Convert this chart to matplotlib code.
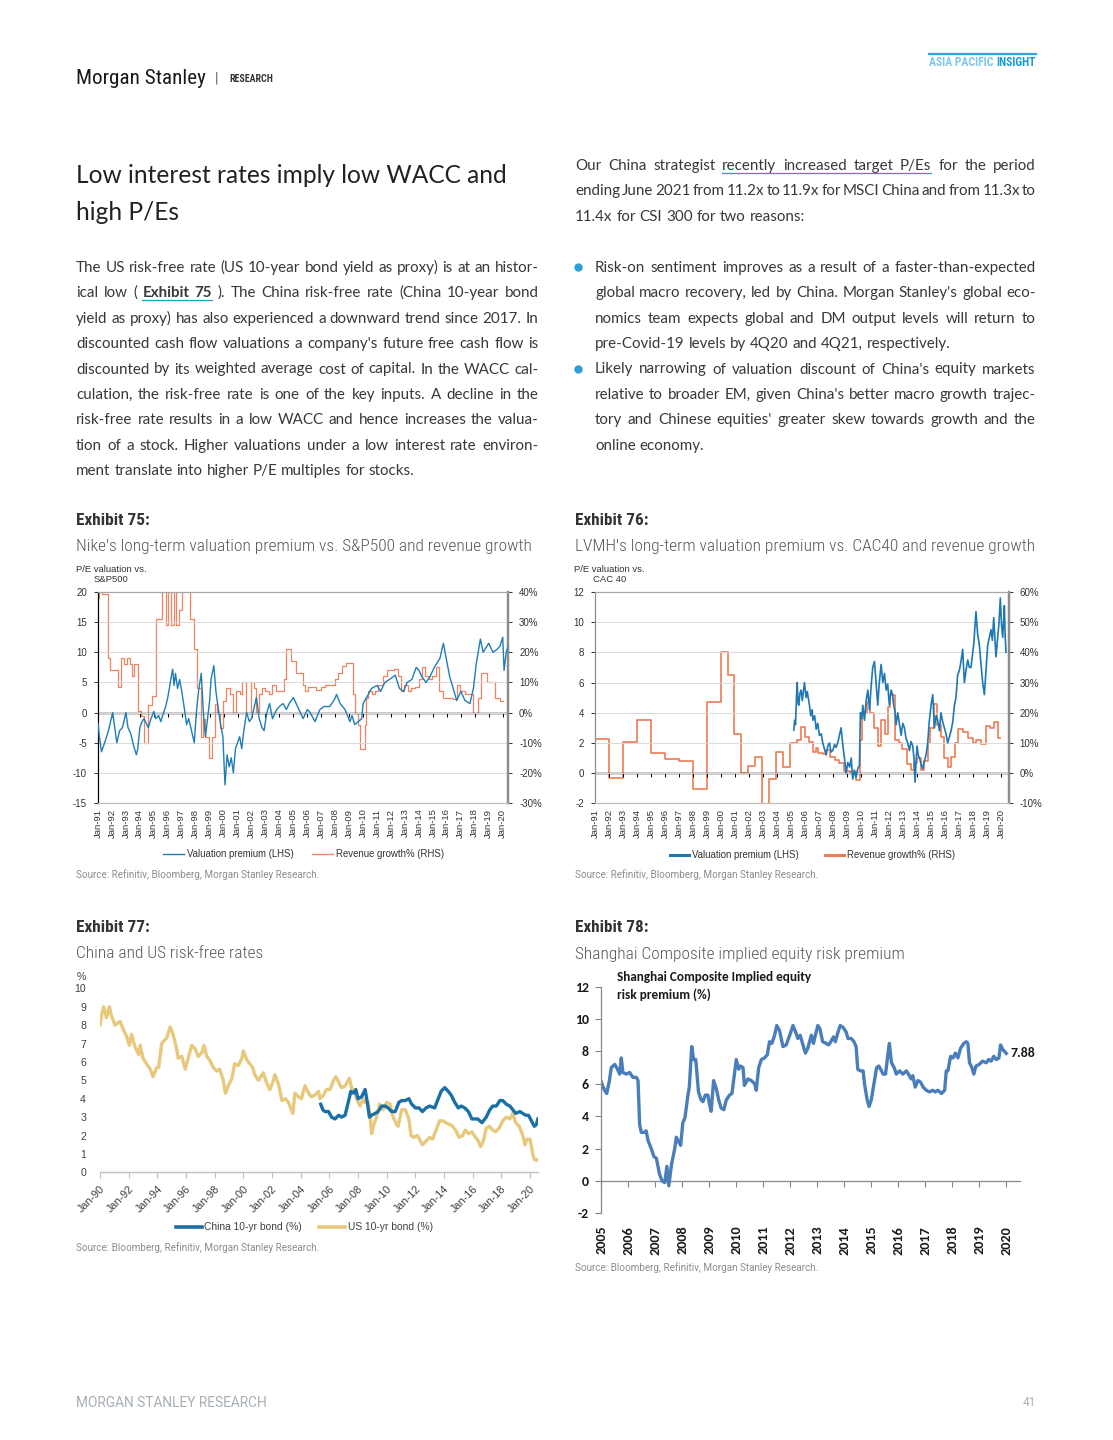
import matplotlib
matplotlib.use("Agg")
import matplotlib.pyplot as plt
from matplotlib.lines import Line2D
from matplotlib import font_manager

# ---------------- data ----------------
nike_premium = [
    (1991.0, -1.8), (1991.1, -4.0), (1991.25, -6.5), (1991.4, -5.5), (1991.55, -4.5), (1991.75, -3.0),
    (1992.05, 0.0), (1992.2, -2.5), (1992.35, -5.0), (1992.55, -3.0), (1992.75, -2.5), (1993.0, 0.0),
    (1993.15, -2.5), (1993.35, -3.5), (1993.55, -5.5), (1993.75, -7.0), (1993.85, -6.0), (1994.0, -2.5),
    (1994.15, -1.5), (1994.3, -1.0), (1994.6, -2.5), (1994.8, -1.0), (1995.0, 0.2), (1995.15, -1.0),
    (1995.35, -0.5), (1995.5, -1.5), (1995.7, 0.0), (1995.85, 1.0), (1996.0, 2.5), (1996.15, 4.5),
    (1996.25, 6.0), (1996.35, 7.2), (1996.45, 4.5), (1996.55, 6.5), (1996.7, 4.0), (1996.85, 5.5),
    (1997.0, 3.5), (1997.2, 0.5), (1997.35, -2.0), (1997.5, -1.0), (1997.7, -3.0), (1997.9, -5.0),
    (1998.05, 0.0), (1998.2, 3.5), (1998.4, 6.5), (1998.55, 0.0), (1998.7, -4.0), (1998.85, -1.0),
    (1999.0, 2.0), (1999.1, 5.5), (1999.3, 7.8), (1999.45, 3.5), (1999.6, 1.0), (1999.75, -1.5),
    (1999.95, -4.0), (2000.1, -12.0), (2000.25, -7.0), (2000.4, -9.0), (2000.55, -7.5), (2000.7, -10.0),
    (2000.85, -6.0), (2001.0, -5.0), (2001.15, -4.0), (2001.3, -6.0), (2001.45, -3.0), (2001.65, 0.0),
    (2001.85, -1.5), (2002.0, -1.0), (2002.2, 1.0), (2002.35, 2.5), (2002.55, -1.0), (2002.75, -2.5),
    (2002.9, -3.0), (2003.1, 0.0), (2003.3, 1.5), (2003.5, -1.0), (2003.8, 0.5), (2004.0, 1.0),
    (2004.25, 1.5), (2004.5, 0.5), (2004.7, 1.5), (2005.0, 2.5), (2005.2, 1.5), (2005.5, 0.0),
    (2005.7, -1.0), (2006.0, 0.5), (2006.2, 0.0), (2006.55, -1.5), (2006.9, 0.5), (2007.2, 1.0),
    (2007.6, 1.0), (2007.9, 2.0), (2008.1, 3.0), (2008.35, 1.5), (2008.7, 0.5), (2009.05, -1.5),
    (2009.2, -0.5), (2009.4, -2.0), (2009.65, -1.5), (2009.9, -1.0), (2010.0, 1.5), (2010.25, 2.5),
    (2010.6, 4.0), (2011.0, 4.5), (2011.25, 3.5), (2011.55, 5.0), (2011.9, 5.5), (2012.3, 6.2),
    (2012.6, 4.0), (2012.9, 3.5), (2013.15, 5.0), (2013.5, 5.5), (2013.8, 7.5), (2014.0, 7.0),
    (2014.2, 6.0), (2014.5, 5.0), (2014.8, 6.0), (2015.1, 7.5), (2015.5, 9.0), (2015.75, 11.5),
    (2015.95, 9.0), (2016.2, 6.0), (2016.45, 4.0), (2016.7, 2.0), (2017.0, 3.5), (2017.3, 2.0),
    (2017.65, 1.5), (2017.9, 4.0), (2018.1, 8.0), (2018.4, 12.2), (2018.6, 10.0), (2019.0, 11.5),
    (2019.3, 10.0), (2019.6, 10.5), (2019.8, 11.0), (2020.0, 12.5), (2020.1, 7.0), (2020.25, 10.0),
    (2020.4, 11.0), (2020.5, 13.5),
]
nike_revenue = [
    (1991.0, 38), (1991.08, 45), (1991.3, 39.5), (1991.7, 18), (1991.85, 14), (1992.45, 8.5),
    (1992.65, 18), (1992.85, 16), (1993.05, 18), (1993.3, 16), (1993.45, 12), (1993.6, 16),
    (1993.9, 0.5), (1994.05, -1), (1994.3, -10), (1994.6, 2.5), (1994.85, 5.5), (1995.15, 31),
    (1995.45, 31), (1995.6, 45), (1995.85, 29), (1996.05, 45), (1996.25, 29), (1996.45, 45),
    (1996.6, 29), (1996.8, 34), (1997.0, 45), (1997.6, 31), (1997.85, 21), (1998.1, 8),
    (1998.35, -8), (1998.5, -2), (1998.65, -8), (1998.95, -15), (1999.15, -8), (1999.35, 3),
    (1999.55, 0), (1999.75, -5), (1999.95, 4), (2000.2, 8), (2000.45, 6), (2000.65, 0),
    (2000.9, 7), (2001.15, 6), (2001.35, 10), (2001.6, 0), (2001.95, 10), (2002.2, 8),
    (2002.35, 0), (2002.55, 6), (2002.75, 8), (2003.0, 7), (2003.25, 6), (2003.5, 9),
    (2003.75, 7), (2004.0, 7), (2004.35, 11), (2004.5, 21), (2004.85, 17), (2005.2, 13),
    (2005.7, 9), (2005.8, 7), (2006.05, 8.5), (2006.6, 7.5), (2006.95, 8.5), (2007.3, 9.0),
    (2008.0, 11), (2008.2, 13), (2008.45, 15.5), (2008.75, 16.5), (2009.25, 6), (2009.45, 0),
    (2009.6, -4), (2009.8, -12), (2010.1, -4), (2010.2, 5), (2010.35, 7), (2010.6, 6),
    (2010.85, 7), (2011.1, 9), (2011.4, 12), (2011.7, 14), (2012.2, 14.5), (2012.5, 12),
    (2012.7, 7), (2012.95, 9), (2013.2, 7), (2013.45, 8), (2013.75, 8.5), (2014.0, 11),
    (2014.2, 15), (2014.45, 12), (2014.7, 11), (2014.95, 12), (2015.2, 15), (2015.45, 7),
    (2015.7, 5), (2016.45, 4.5), (2016.7, 9), (2016.95, 7), (2017.3, 6), (2017.85, 0),
    (2018.2, 5), (2018.45, 13), (2018.85, 10), (2019.45, 5), (2019.8, 4), (2020.0, 4),
]
lvmh_premium = [
    (2005.19, 2.85), (2005.25, 3.5), (2005.31, 3.2), (2005.38, 5.0), (2005.43, 6.0), (2005.5, 4.6),
    (2005.55, 4.5), (2005.63, 5.3), (2005.71, 5.5), (2005.8, 4.8), (2005.9, 5.6), (2005.95, 6.0),
    (2006.07, 5.0), (2006.15, 5.4), (2006.31, 4.5), (2006.4, 3.8), (2006.5, 4.2), (2006.55, 3.5),
    (2006.68, 3.8), (2006.79, 2.9), (2006.9, 3.3), (2007.02, 2.5), (2007.15, 2.6), (2007.26, 2.0),
    (2007.38, 1.6), (2007.5, 1.2), (2007.62, 1.8), (2007.74, 2.0), (2007.85, 1.4), (2007.98, 1.5),
    (2008.1, 1.9), (2008.21, 1.7), (2008.35, 2.1), (2008.45, 2.5), (2008.57, 3.0), (2008.7, 1.8),
    (2008.81, 1.0), (2008.93, 0.0), (2009.05, 0.7), (2009.18, 0.4), (2009.29, 1.0), (2009.4, -0.4),
    (2009.52, 0.2), (2009.64, -0.3), (2009.76, 0.3), (2009.88, 0.5), (2009.95, 4.0), (2010.05, 3.6),
    (2010.12, 4.5), (2010.24, 3.5), (2010.36, 4.8), (2010.48, 5.5), (2010.6, 4.2), (2010.72, 5.8),
    (2010.83, 7.0), (2010.95, 7.4), (2011.07, 6.0), (2011.19, 4.5), (2011.3, 6.0), (2011.43, 7.2),
    (2011.55, 6.0), (2011.67, 6.6), (2011.79, 5.5), (2011.9, 5.9), (2012.02, 4.5), (2012.14, 5.5),
    (2012.25, 5.2), (2012.33, 4.5), (2012.42, 4.1), (2012.5, 3.2), (2012.62, 4.0), (2012.75, 3.2),
    (2012.86, 2.5), (2012.98, 3.3), (2013.1, 3.0), (2013.21, 2.3), (2013.33, 2.0), (2013.45, 1.5),
    (2013.57, 2.1), (2013.69, 1.8), (2013.78, 1.0), (2013.86, -0.6), (2013.93, 0.8), (2014.0, 1.8),
    (2014.08, 1.2), (2014.17, 1.0), (2014.28, 0.6), (2014.4, 0.3), (2014.52, 0.8), (2014.64, 1.2),
    (2014.76, 2.0), (2014.88, 3.5), (2015.0, 4.5), (2015.12, 5.2), (2015.24, 3.0), (2015.36, 3.8),
    (2015.48, 3.5), (2015.6, 2.8), (2015.71, 4.0), (2015.83, 3.4), (2015.95, 3.0), (2016.07, 2.6),
    (2016.19, 2.0), (2016.31, 2.4), (2016.43, 2.8), (2016.55, 3.4), (2016.67, 4.5), (2016.78, 5.0),
    (2016.9, 6.5), (2017.02, 6.8), (2017.14, 7.4), (2017.26, 8.2), (2017.38, 6.0), (2017.5, 6.8),
    (2017.62, 7.5), (2017.74, 7.0), (2017.86, 7.0), (2017.95, 7.8), (2018.05, 8.5), (2018.13, 9.6),
    (2018.21, 10.7), (2018.33, 9.2), (2018.45, 8.5), (2018.57, 7.2), (2018.69, 6.0), (2018.81, 5.2),
    (2018.93, 6.8), (2019.05, 8.5), (2019.17, 9.0), (2019.29, 9.5), (2019.38, 8.8), (2019.48, 10.3),
    (2019.56, 9.0), (2019.64, 7.7), (2019.76, 9.0), (2019.86, 10.0), (2019.95, 11.6), (2020.04, 9.8),
    (2020.12, 9.0), (2020.2, 10.3), (2020.24, 11.1), (2020.3, 9.0), (2020.36, 8.0),
]
lvmh_revenue = [
    (1991.0, 11.2), (1992.0, -1.7), (1993.0, 10.2), (1994.0, 17.5), (1995.0, 6.6), (1996.0, 4.6),
    (1996.95, 4.0), (1997.95, -5.2), (1998.95, 23.5), (1999.95, 40.0), (2000.5, 32.5), (2000.95, 13.0),
    (2001.45, 0.0), (2001.9, 2.3), (2002.45, 5.2), (2002.95, -11.0), (2003.45, -2.0), (2003.9, 7.0),
    (2004.4, 2.1), (2004.95, 10.0), (2005.45, 11.0), (2005.7, 15.3), (2006.0, 12.0), (2006.25, 10.4),
    (2006.55, 7.0), (2006.8, 8.2), (2006.95, 6.5), (2007.25, 6.3), (2007.5, 7.6), (2007.75, 5.4),
    (2008.1, 4.3), (2008.45, 3.2), (2008.8, 0.8), (2009.2, 0.5), (2009.65, -2.3), (2009.95, 11.0),
    (2010.05, 20.0), (2010.4, 23.5), (2010.65, 20.0), (2010.95, 15.0), (2011.2, 9.0), (2011.45, 17.5),
    (2011.7, 13.0), (2011.9, 22.0), (2012.1, 26.0), (2012.45, 11.0), (2012.7, 10.0), (2012.95, 8.0),
    (2013.25, 3.0), (2013.55, 1.0), (2013.8, 3.5), (2014.0, 5.0), (2014.25, 1.0), (2014.5, 4.0),
    (2014.75, 10.0), (2014.95, 15.0), (2015.2, 23.0), (2015.45, 16.0), (2015.7, 12.0), (2015.95, 5.0),
    (2016.2, 2.0), (2016.4, 5.5), (2016.7, 10.0), (2016.95, 14.5), (2017.3, 13.5), (2017.65, 11.5),
    (2018.0, 10.0), (2018.2, 11.0), (2018.55, 9.5), (2018.9, 15.5), (2019.2, 15.0), (2019.5, 17.0),
    (2019.75, 11.5), (2019.9, 11.5),
]
china_10y = [
    (2005.4, 3.7), (2005.55, 3.4), (2005.7, 3.3), (2005.95, 3.3), (2006.15, 3.0), (2006.4, 2.9),
    (2006.65, 3.1), (2006.85, 3.0), (2007.1, 3.1), (2007.35, 3.9), (2007.5, 4.4), (2007.7, 4.3),
    (2007.85, 4.5), (2008.0, 4.0), (2008.25, 4.1), (2008.5, 4.5), (2008.65, 3.8), (2008.8, 3.0),
    (2008.95, 3.1), (2009.2, 3.2), (2009.4, 3.3), (2009.65, 3.6), (2009.9, 3.6), (2010.1, 3.5),
    (2010.35, 3.3), (2010.6, 3.3), (2010.85, 3.8), (2011.05, 3.9), (2011.3, 3.9), (2011.55, 4.0),
    (2011.75, 3.7), (2012.0, 3.5), (2012.25, 3.5), (2012.5, 3.3), (2012.75, 3.5), (2013.0, 3.6),
    (2013.35, 3.5), (2013.6, 4.0), (2013.8, 4.4), (2014.05, 4.6), (2014.3, 4.4), (2014.5, 4.2),
    (2014.75, 3.8), (2015.0, 3.5), (2015.2, 3.6), (2015.45, 3.5), (2015.7, 3.3), (2015.95, 2.9),
    (2016.15, 2.9), (2016.35, 2.9), (2016.65, 2.7), (2016.95, 3.0), (2017.2, 3.4), (2017.4, 3.6),
    (2017.65, 3.6), (2017.9, 3.9), (2018.1, 3.9), (2018.35, 3.7), (2018.6, 3.6), (2018.8, 3.4),
    (2019.0, 3.2), (2019.3, 3.3), (2019.5, 3.2), (2019.7, 3.1), (2019.9, 3.1), (2020.1, 2.8),
    (2020.3, 2.5), (2020.45, 2.6), (2020.55, 2.9),
]
us_10y = [
    (1990.0, 8.0), (1990.1, 8.5), (1990.25, 9.0), (1990.45, 8.4), (1990.65, 9.0), (1990.8, 8.5),
    (1991.05, 8.0), (1991.4, 8.2), (1991.6, 7.8), (1991.85, 7.4), (1992.05, 6.9), (1992.2, 7.5),
    (1992.45, 6.8), (1992.7, 6.4), (1992.8, 6.9), (1993.0, 6.2), (1993.25, 5.9), (1993.5, 5.6),
    (1993.7, 5.2), (1993.95, 5.7), (1994.1, 5.7), (1994.3, 7.0), (1994.65, 7.3), (1994.9, 7.9),
    (1995.1, 7.5), (1995.35, 6.7), (1995.45, 6.2), (1995.7, 6.3), (1995.95, 5.6), (1996.15, 6.2),
    (1996.4, 6.9), (1996.65, 6.7), (1996.85, 6.3), (1997.1, 6.5), (1997.25, 6.9), (1997.45, 6.3),
    (1997.65, 6.1), (1997.9, 5.7), (1998.15, 5.5), (1998.35, 5.6), (1998.6, 5.0), (1998.75, 4.3),
    (1998.95, 4.7), (1999.2, 5.1), (1999.4, 5.9), (1999.65, 5.8), (1999.9, 6.2), (2000.0, 6.6),
    (2000.25, 6.1), (2000.45, 5.9), (2000.65, 5.7), (2000.8, 5.3), (2001.05, 5.0), (2001.3, 5.3),
    (2001.4, 5.4), (2001.65, 4.8), (2001.85, 4.5), (2002.1, 5.0), (2002.2, 5.3), (2002.45, 4.8),
    (2002.7, 3.9), (2002.95, 4.0), (2003.15, 3.8), (2003.45, 3.2), (2003.6, 4.3), (2003.85, 4.1),
    (2004.05, 4.0), (2004.3, 4.7), (2004.55, 4.3), (2004.75, 4.1), (2005.0, 4.2), (2005.25, 4.4),
    (2005.35, 4.0), (2005.6, 4.2), (2005.8, 4.5), (2006.05, 4.5), (2006.3, 5.0), (2006.45, 5.2),
    (2006.65, 4.9), (2006.85, 4.6), (2007.1, 4.7), (2007.4, 5.1), (2007.55, 4.6), (2007.8, 4.3),
    (2007.9, 4.0), (2008.15, 3.6), (2008.35, 4.0), (2008.5, 3.8), (2008.7, 3.8), (2008.85, 3.0),
    (2008.95, 2.1), (2009.1, 2.6), (2009.3, 3.0), (2009.5, 3.7), (2009.75, 3.4), (2010.0, 3.8),
    (2010.25, 3.7), (2010.45, 3.0), (2010.7, 2.6), (2010.8, 2.5), (2011.05, 3.4), (2011.3, 3.4),
    (2011.55, 2.9), (2011.7, 2.0), (2011.9, 1.9), (2012.15, 2.0), (2012.35, 1.7), (2012.5, 1.5),
    (2012.75, 1.7), (2013.0, 1.9), (2013.2, 1.8), (2013.45, 2.3), (2013.7, 2.8), (2013.9, 2.8),
    (2014.1, 2.7), (2014.4, 2.6), (2014.6, 2.5), (2014.8, 2.3), (2015.05, 1.9), (2015.3, 2.0),
    (2015.5, 2.3), (2015.7, 2.1), (2015.95, 2.2), (2016.2, 1.9), (2016.4, 1.7), (2016.55, 1.4),
    (2016.75, 1.7), (2016.95, 2.4), (2017.15, 2.5), (2017.4, 2.3), (2017.6, 2.2), (2017.85, 2.4),
    (2018.1, 2.8), (2018.35, 3.0), (2018.6, 2.9), (2018.8, 3.2), (2019.0, 2.7), (2019.25, 2.5),
    (2019.5, 2.0), (2019.65, 1.5), (2019.8, 1.8), (2020.0, 1.8), (2020.2, 1.0), (2020.3, 0.7),
    (2020.45, 0.65), (2020.55, 0.7),
]
sh_erp = [
    (2005.0, 6.1), (2005.12, 5.6), (2005.2, 5.4), (2005.3, 6.2), (2005.37, 7.0), (2005.5, 7.2),
    (2005.6, 6.9), (2005.68, 6.6), (2005.74, 7.6), (2005.8, 6.7), (2005.93, 6.6), (2006.05, 6.7),
    (2006.17, 6.4), (2006.3, 6.4), (2006.36, 6.2), (2006.42, 3.5), (2006.48, 3.0), (2006.6, 3.0),
    (2006.66, 3.1), (2006.73, 2.5), (2006.85, 2.0), (2006.95, 1.5), (2007.04, 1.4), (2007.16, 0.4),
    (2007.25, 0.0), (2007.35, -0.1), (2007.43, 0.9), (2007.5, -0.3), (2007.6, 1.0), (2007.72, 2.0),
    (2007.78, 2.7), (2007.84, 2.5), (2007.94, 2.2), (2008.02, 3.6), (2008.1, 3.9), (2008.2, 5.2),
    (2008.26, 5.8), (2008.35, 8.3), (2008.42, 7.5), (2008.5, 7.5), (2008.6, 5.5), (2008.7, 5.0),
    (2008.77, 4.9), (2008.85, 5.3), (2008.95, 5.3), (2009.0, 4.8), (2009.07, 4.3), (2009.16, 6.2),
    (2009.26, 5.7), (2009.35, 5.0), (2009.44, 4.5), (2009.54, 4.4), (2009.63, 5.0), (2009.75, 5.3),
    (2009.84, 5.4), (2009.9, 6.2), (2010.0, 7.5), (2010.09, 6.9), (2010.16, 7.1), (2010.25, 7.0),
    (2010.3, 5.9), (2010.43, 6.3), (2010.56, 6.2), (2010.68, 6.0), (2010.74, 5.6), (2010.83, 7.0),
    (2010.93, 7.5), (2011.05, 7.6), (2011.15, 7.8), (2011.23, 8.6), (2011.32, 8.5), (2011.42, 9.0),
    (2011.5, 9.6), (2011.6, 9.3), (2011.73, 8.3), (2011.85, 8.4), (2011.98, 9.0), (2012.1, 9.6),
    (2012.2, 9.2), (2012.28, 8.8), (2012.37, 9.0), (2012.47, 8.4), (2012.56, 7.9), (2012.65, 8.2),
    (2012.78, 9.0), (2012.86, 8.5), (2012.93, 9.0), (2013.02, 9.6), (2013.1, 9.4), (2013.2, 8.6),
    (2013.33, 8.5), (2013.42, 8.4), (2013.5, 8.6), (2013.6, 8.9), (2013.67, 8.6), (2013.77, 9.2),
    (2013.85, 9.6), (2013.95, 9.5), (2014.07, 9.2), (2014.14, 8.8), (2014.26, 8.8), (2014.36, 8.6),
    (2014.44, 8.3), (2014.5, 6.9), (2014.6, 6.8), (2014.7, 6.8), (2014.75, 6.0), (2014.85, 5.0),
    (2014.92, 4.6), (2015.0, 5.0), (2015.1, 6.0), (2015.2, 7.0), (2015.28, 7.1), (2015.38, 6.8),
    (2015.44, 6.6), (2015.53, 6.6), (2015.6, 7.6), (2015.67, 8.5), (2015.75, 7.3), (2015.85, 7.0),
    (2015.93, 6.6), (2016.05, 6.8), (2016.17, 6.6), (2016.3, 6.8), (2016.38, 6.6), (2016.48, 6.3),
    (2016.54, 6.5), (2016.63, 5.8), (2016.73, 6.2), (2016.83, 6.1), (2016.92, 5.8), (2017.04, 5.6),
    (2017.16, 5.5), (2017.28, 5.6), (2017.37, 5.5), (2017.47, 5.6), (2017.6, 5.4), (2017.72, 5.6),
    (2017.78, 6.8), (2017.84, 6.8), (2017.94, 7.7), (2018.03, 7.6), (2018.12, 7.9), (2018.21, 7.6),
    (2018.31, 8.2), (2018.43, 8.5), (2018.52, 8.6), (2018.58, 8.5), (2018.64, 7.3), (2018.73, 7.0),
    (2018.8, 6.6), (2018.88, 7.1), (2019.0, 7.2), (2019.12, 7.4), (2019.26, 7.3), (2019.35, 7.5),
    (2019.44, 7.4), (2019.54, 7.7), (2019.63, 7.5), (2019.73, 7.6), (2019.79, 8.4), (2019.88, 8.1),
    (2019.94, 8.0), (2020.0, 7.88),
]
nike_years = list(range(1991, 2021))
rate_years = list(range(1990, 2021, 2))
erp_years = list(range(2005, 2021))

# ---------------- fonts ----------------
names = {f.name for f in font_manager.fontManager.ttflist}
def pick(options, default="DejaVu Sans"):
    for n in options:
        if n in names:
            return n
    return default
COND = pick(["Roboto Condensed", "Liberation Sans Narrow", "Roboto"])
ROB = pick(["Roboto", "Liberation Sans"])
BODY = pick(["Lato", "Open Sans", "Noto Sans"])
ARIAL = pick(["Liberation Sans", "DejaVu Sans"])
CALI = pick(["Carlito", "Lato", "Open Sans"])

W, H = 1113, 1440
fig = plt.figure(figsize=(W / 100, H / 100), dpi=100)
fig.patch.set_facecolor("white")
R = fig.canvas.get_renderer()


def fx(x):
    return x / W


def fy(y):
    return 1 - y / H


def T(x, y, s, **kw):
    kw.setdefault("va", "center")
    return fig.text(fx(x), fy(y), s, **kw)


def width(t):
    return t.get_window_extent(renderer=R).width


def fit(x, y, s, w, size, **kw):
    t = T(x, y, s, fontsize=size, **kw)
    t.set_fontsize(size * w / width(t))
    return t


def add_ax(l, t, r, b):
    return fig.add_axes([l / W, 1 - b / H, (r - l) / W, (b - t) / H])


# ---------------- header / footer ----------------
fit(76, 78, "Morgan Stanley", 129, 13, family=COND, color="#1a1a1a")
T(216, 78, "|", fontsize=10, family=ROB, color="#555555", ha="center")
fit(229, 79, "RESEARCH", 43, 5.5, family=COND, fontweight="bold", color="#333333")
ins = T(1036, 62, "INSIGHT", fontsize=8.4, family=COND, fontweight="bold", color="#1b9ad8", ha="right")
wi = width(ins)
asia = T(1036 - wi - 3, 62, "ASIA PACIFIC", fontsize=8.4, family=COND, fontweight="bold", color="#7fc6ee", ha="right")
x_left = 1036 - wi - 3 - width(asia)
fig.add_artist(Line2D([fx(x_left), fx(1036)], [fy(53.5)] * 2, transform=fig.transFigure,
                      color="#2ea3df", lw=1.6))
fit(76, 1403, "MORGAN STANLEY RESEARCH", 192, 8, family=ROB, color="#a7aeb4")
T(1036, 1403, "41", fontsize=8.5, family=ROB, color="#a7aeb4", ha="right")

# ---------------- title and body text ----------------
ttl = fit(76, 183.3, "Low interest rates imply low WACC and", 430, 18, family=BODY, color="#222222", va="baseline")
T(76, 220.5, "high P/Es", fontsize=ttl.get_fontsize(), family=BODY, color="#222222", va="baseline")

TXT = "#383838"
LINK = "#2a9cc4"
left_lines = [
    ["The US risk-free rate (US 10-year bond yield as proxy) is at an histor-"],
    ["ical low (", ("Exhibit 75", {"weight": "bold", "ul": True}), "). The China risk-free rate (China 10-year bond"],
    ["yield as proxy) has also experienced a downward trend since 2017. In"],
    ["discounted cash flow valuations a company's future free cash flow is"],
    ["discounted by its weighted average cost of capital. In the WACC cal-"],
    ["culation, the risk-free rate is one of the key inputs. A decline in the"],
    ["risk-free rate results in a low WACC and hence increases the valua-"],
    ["tion of a stock. Higher valuations under a low interest rate environ-"],
    ["ment translate into higher P/E multiples for stocks."],
]
right_lines = [
    ["Our China strategist", ("recently increased target P/Es", {"ul": True}), "for the period"],
    ["ending June 2021 from 11.2x to 11.9x for MSCI China and from 11.3x to"],
    ["11.4x for CSI 300 for two reasons:"],
]
bullet1 = [
    ["Risk-on sentiment improves as a result of a faster-than-expected"],
    ["global macro recovery, led by China. Morgan Stanley's global eco-"],
    ["nomics team expects global and DM output levels will return to"],
    ["pre-Covid-19 levels by 4Q20 and 4Q21, respectively."],
]
bullet2 = [
    ["Likely narrowing of valuation discount of China's equity markets"],
    ["relative to broader EM, given China's better macro growth trajec-"],
    ["tory and Chinese equities' greater skew towards growth and the"],
    ["online economy."],
]


def tokens_of(segments):
    toks = []
    for seg in segments:
        s, props = (seg, {}) if isinstance(seg, str) else seg
        words = s.split()
        for i, wd in enumerate(words):
            toks.append((wd, props, props.get("ul", False) and i < len(words) - 1))
    return toks


def make_words(toks, size):
    arts = []
    for wd, props, _ in toks:
        arts.append(fig.text(0, 0, wd, fontsize=size, family=BODY, color=TXT,
                             fontweight=props.get("weight", "normal"), va="baseline", ha="left"))
    return arts


def space_w(size):
    a = fig.text(0, 0, "a a", fontsize=size, family=BODY)
    b = fig.text(0, 0, "aa", fontsize=size, family=BODY)
    s = width(a) - width(b)
    a.remove(); b.remove()
    return s


blocks = [
    (76, 538.5, 271.7, left_lines),
    (575, 1035.7, 170.0, right_lines),
    (595, 1035.7, 271.7, bullet1),
    (595, 1035.7, 373.5, bullet2),
]
LS = 25.45

# choose a body size so that every justified line keeps at least ~55% of a normal space
s0 = 10.0
B0 = space_w(s0)
limits = []
for x0, x1, yb, lines in blocks:
    for ln in lines[:-1]:
        arts = make_words(tokens_of(ln), s0)
        A = sum(width(a) for a in arts)
        n = len(arts)
        for a in arts:
            a.remove()
        limits.append(s0 * (x1 - x0) / (A + 0.55 * B0 * (n - 1)))
BSIZE = min(limits)
SP = space_w(BSIZE)


def set_line(x0, x1, yb, segments, justify):
    toks = tokens_of(segments)
    arts = make_words(toks, BSIZE)
    ws = [width(a) for a in arts]
    n = len(arts)
    gap = (x1 - x0 - sum(ws)) / (n - 1) if (justify and n > 1) else SP
    x = x0
    for a, w, (wd, props, ulgap) in zip(arts, ws, toks):
        a.set_position((fx(x), fy(yb)))
        if props.get("ul"):
            x_end = x + w + (gap if ulgap else 0)
            fig.add_artist(Line2D([fx(x), fx(x_end)], [fy(yb + 3)] * 2, transform=fig.transFigure,
                                  color=LINK, lw=0.9))
        x += w + gap


for x0, x1, yb, lines in blocks:
    for i, ln in enumerate(lines):
        set_line(x0, x1, yb + i * LS, ln, i < len(lines) - 1)

for yb in (267.3, 369.0):
    fig.add_artist(Line2D([fx(578.3)], [fy(yb)], transform=fig.transFigure, marker="o",
                          markersize=6, color="#2a9fd8", markeredgewidth=0))

# ---------------- exhibit captions ----------------
for x, y, s in [(76, 520, "Exhibit 75:"), (575, 520, "Exhibit 76:"),
                (76, 928, "Exhibit 77:"), (575, 928, "Exhibit 78:")]:
    fit(x, y, s, 73, 9, family=COND, fontweight="bold", color="#333333")
for x, y, s, w in [(76, 546, "Nike's long-term valuation premium vs. S&P500 and revenue growth", 457),
                   (575, 546, "LVMH's long-term valuation premium vs. CAC40 and revenue growth", 460),
                   (76, 954, "China and US risk-free rates", 187),
                   (575, 954, "Shanghai Composite implied equity risk premium", 331)]:
    fit(x, y, s, w, 10, family=COND, fontweight="light", color="#595959")
for x, y, s in [(76, 875, "Source: Refinitiv, Bloomberg, Morgan Stanley Research."),
                (575, 875, "Source: Refinitiv, Bloomberg, Morgan Stanley Research."),
                (76, 1248, "Source: Bloomberg, Refinitiv, Morgan Stanley Research."),
                (575, 1268, "Source: Bloomberg, Refinitiv, Morgan Stanley Research.")]:
    fit(x, y, s, 242, 6.5, family=ROB, color="#8c8c8c")

TICKC = "#333333"
GRID = "#d9d9d9"


def dual_chart(box, xlim, prem, rev, ylim, ystep, rlim, rstep, zfrac, blue, orange,
               lw_b, lw_o, leftc, top_text, legend_pos, leg_hl, leg_cs, leg_lw):
    l, t, r, b = box
    ax = add_ax(l, t, r, b)
    axr = ax.twinx()
    pt, pv = zip(*prem)
    rt, rv = zip(*rev)
    ax.plot(pt, pv, color=blue, lw=lw_b, zorder=3)
    axr.plot(rt, rv, color=orange, lw=lw_o, drawstyle="steps-post", zorder=2)
    ax.set_zorder(axr.get_zorder() + 1)
    ax.patch.set_visible(False)
    ax.set_xlim(*xlim)
    ax.set_ylim(*ylim)
    axr.set_ylim(*rlim)
    yt = list(range(ylim[0], ylim[1] + 1, ystep))
    ax.set_yticks(yt)
    ax.set_yticklabels([str(v) for v in yt])
    rtk = list(range(rlim[0], rlim[1] + 1, rstep))
    axr.set_yticks(rtk)
    axr.set_yticklabels([f"{v}%" for v in rtk])
    ax.set_xticks(nike_years)
    ax.set_xticklabels([f"Jan-{y % 100:02d}" for y in nike_years])
    ax.tick_params(axis="x", length=0, pad=4, labelsize=6.8, labelrotation=90, colors=TICKC)
    ax.tick_params(axis="y", length=3, width=0.7, pad=5, labelsize=7, colors=TICKC)
    axr.tick_params(axis="y", length=3, width=0.7, pad=5, labelsize=7, colors=TICKC)
    for lb in ax.get_xticklabels() + ax.get_yticklabels() + axr.get_yticklabels():
        lb.set_family(ARIAL)
    ax.grid(axis="y", color=GRID, lw=0.7)
    ax.set_axisbelow(True)
    for a in (ax, axr):
        a.spines["top"].set_color("#a6a6a6")
        a.spines["bottom"].set_color("#bfbfbf")
        a.spines["right"].set_color("#8c8c8c")
        a.spines["right"].set_linewidth(1.6)
        a.spines["left"].set_color(leftc)
        a.spines["top"].set_linewidth(0.8)
        a.spines["bottom"].set_linewidth(0.8)
    sec = ax.secondary_xaxis(zfrac)
    sec.set_xticks(nike_years)
    sec.set_xticklabels([])
    sec.tick_params(axis="x", length=3, width=0.7, color="black")
    for s in sec.spines.values():
        s.set_color("black")
        s.set_linewidth(1.0)
    (x1, y1, s1), (x2, y2, s2) = top_text
    T(x1, y1, s1, fontsize=6.8, family=ARIAL, color=TICKC)
    T(x2, y2, s2, fontsize=6.8, family=ARIAL, color=TICKC)
    hs = [Line2D([], [], color=blue, lw=leg_lw), Line2D([], [], color=orange, lw=leg_lw)]
    ax.legend(hs, ["Valuation premium (LHS)", "Revenue growth% (RHS)"], loc="center left",
              bbox_to_anchor=(fx(legend_pos[0]), fy(legend_pos[1])), bbox_transform=fig.transFigure,
              ncol=2, frameon=False, prop={"family": ARIAL, "size": 6.9}, handlelength=leg_hl,
              handletextpad=0.3, columnspacing=leg_cs, borderpad=0, borderaxespad=0, labelcolor=TICKC)
    return ax


# Exhibit 75
dual_chart((98, 592, 508, 803), (1991.0, 2020.38), nike_premium, nike_revenue, (-15, 20), 5,
           (-30, 40), 10, 15 / 35, "#1f7db6", "#ec8560", 1.0, 0.9, "black",
           [(76, 569, "P/E valuation vs."), (94, 579, "S&P500")], (163, 854), 2.2, 1.9, 1.0)

# Exhibit 76
dual_chart((595.3, 592, 1008.7, 803.3), (1991.0, 2020.55), lvmh_premium, lvmh_revenue, (-2, 12), 2,
           (-10, 60), 10, 2 / 14, "#1f78b4", "#ec7c54", 1.2, 1.2, "#8c8c8c",
           [(574, 569, "P/E valuation vs."), (593, 579, "CAC 40")], (669.5, 855), 2.0, 2.8, 2.2)

# Exhibit 77
ax3 = add_ax(100, 988.3, 538, 1172.3)
ct, cv = zip(*china_10y)
ut, uv = zip(*us_10y)
ax3.plot(ct, cv, color="#1a70a6", lw=2.4, zorder=3)
ax3.plot(ut, uv, color="#e8c87c", lw=2.4, zorder=2)
ax3.set_xlim(1990.0, 2020.56)
ax3.set_ylim(0, 10)
ax3.set_yticks(range(0, 11))
ax3.set_yticklabels([str(v) for v in range(0, 11)])
ax3.set_xticks(rate_years)
ax3.set_xticklabels([f"Jan-{y % 100:02d}" for y in rate_years])
for lb in ax3.get_xticklabels():
    lb.set_rotation(45)
    lb.set_ha("right")
    lb.set_rotation_mode("anchor")
ax3.tick_params(axis="x", length=4, width=0.8, color="#bfbfbf", pad=4, labelsize=7.8, labelcolor="#404040")
ax3.tick_params(axis="y", length=0, pad=10, labelsize=7.6, labelcolor="#404040")
for s in ("left", "top", "right"):
    ax3.spines[s].set_visible(False)
ax3.spines["bottom"].set_color("#bfbfbf")
ax3.spines["bottom"].set_linewidth(1.0)
T(77, 977, "%", fontsize=7.6, family=ARIAL, color="#404040")
hs = [Line2D([], [], color="#1a70a6", lw=2.6), Line2D([], [], color="#e8c87c", lw=2.6)]
ax3.legend(hs, ["China 10-yr bond (%)", "US 10-yr bond (%)"], loc="center left",
           bbox_to_anchor=(fx(176), fy(1227.5)), bbox_transform=fig.transFigure, ncol=2, frameon=False,
           prop={"family": ARIAL, "size": 7.4}, handlelength=2.5, handletextpad=0.25, columnspacing=1.7,
           borderpad=0, borderaxespad=0, labelcolor="#404040")
for lb in ax3.get_xticklabels() + ax3.get_yticklabels():
    lb.set_family(ARIAL)

# Exhibit 78
ax4 = add_ax(601.3, 986.7, 1019.7, 1213.3)
et, ev = zip(*sh_erp)
ax4.plot(et, ev, color="#4a7ebb", lw=2.4)
ax4.set_xlim(2005.0, 2020.5)
ax4.set_ylim(-2, 12)
ax4.set_yticks(range(-2, 13, 2))
ax4.set_yticklabels([str(v) for v in range(-2, 13, 2)])
ax4.set_xticks(erp_years)
ax4.set_xticklabels([str(y) for y in erp_years])
ax4.tick_params(axis="x", length=0, pad=9, labelsize=10.2, labelrotation=90, labelcolor="#1a1a1a")
ax4.tick_params(axis="y", length=4, width=0.8, color="#868686", pad=5, labelsize=10, labelcolor="#1a1a1a")
for lb in ax4.get_xticklabels() + ax4.get_yticklabels():
    lb.set_family(CALI)
    lb.set_fontweight("bold")
for s in ("top", "right", "bottom"):
    ax4.spines[s].set_visible(False)
ax4.spines["left"].set_color("#868686")
ax4.spines["left"].set_linewidth(0.9)
sec4 = ax4.secondary_xaxis(2 / 14)
sec4.set_xticks(erp_years)
sec4.set_xticklabels([])
sec4.tick_params(axis="x", length=4, width=0.8, color="#868686")
for s in sec4.spines.values():
    s.set_color("#868686")
    s.set_linewidth(0.9)
fit(617, 977.3, "Shanghai Composite Implied equity", 196, 8, fontweight="bold", family=CALI, color="#1a1a1a")
T(617, 994.3, "risk premium (%)", fontsize=fig.texts[-1].get_fontsize(), fontweight="bold", family=CALI,
  color="#1a1a1a")
ax4.annotate(f"{ev[-1]:.2f}", xy=(et[-1], ev[-1]), xytext=(3.2, 0), textcoords="offset points",
             ha="left", va="center", fontsize=10, fontweight="bold", family=CALI, color="#1a1a1a",
             annotation_clip=False)

fig.savefig("out.png", dpi=100, facecolor="white")
